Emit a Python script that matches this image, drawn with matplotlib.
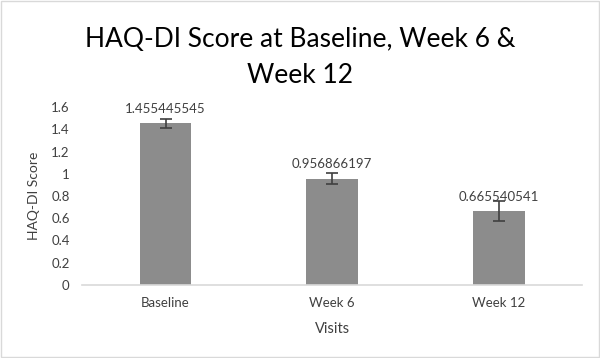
import matplotlib
matplotlib.use('Agg')
import matplotlib.pyplot as plt

visits = ['Baseline', 'Week 6', 'Week 12']
scores = [1.455445545, 0.956866197, 0.665540541]
errors = [0.04, 0.05, 0.09]
yticks = [0, 0.2, 0.4, 0.6, 0.8, 1, 1.2, 1.4, 1.6]
ytick_labels = ['0', '0.2', '0.4', '0.6', '0.8', '1', '1.2', '1.4', '1.6']

plt.rcParams['font.family'] = ['Lato', 'DejaVu Sans']
text_col = '#404040'

fig = plt.figure(figsize=(6, 3.58), dpi=100)
fig.patches.append(plt.Rectangle((0.002, 0.003), 0.996, 0.994, transform=fig.transFigure,
                                 fill=False, edgecolor='#d9d9d9', linewidth=1))
ax = fig.add_axes([0.137, 0.204, 0.833, 0.497])

x = range(len(visits))
ax.bar(x, scores, width=0.31, color='#8c8c8c', zorder=2)
ax.errorbar(x, scores, yerr=errors, fmt='none', ecolor='#404040', elinewidth=1.2,
            capsize=4, capthick=1.2, zorder=3)
# labels sit above the bar top, not above the error bar (like Excel)
for i, v in enumerate(scores):
    ax.annotate(str(v), (i, v), xytext=(0, 6), textcoords='offset points',
                ha='center', va='bottom', fontsize=9.5, color=text_col)

ax.set_xlim(-0.5, 2.5)
ax.set_ylim(0, 1.6)
ax.set_xticks(list(x))
ax.set_xticklabels(visits)
ax.set_yticks(yticks)
ax.set_yticklabels(ytick_labels)
ax.tick_params(length=0, labelsize=9.5, colors=text_col, pad=9)
for s in ['top', 'right', 'left']:
    ax.spines[s].set_visible(False)
ax.spines['bottom'].set_color('#d9d9d9')
ax.spines['bottom'].set_linewidth(1.2)

ax.set_xlabel('Visits', fontsize=10.5, color=text_col, labelpad=9)
ax.set_ylabel('HAQ-DI Score', fontsize=10, color=text_col, labelpad=8)
fig.text(0.5, 0.925, 'HAQ-DI Score at Baseline, Week 6 &\nWeek 12', ha='center', va='top',
         fontsize=19, color='#000000', linespacing=1.55)

fig.savefig('out.png', dpi=100)
